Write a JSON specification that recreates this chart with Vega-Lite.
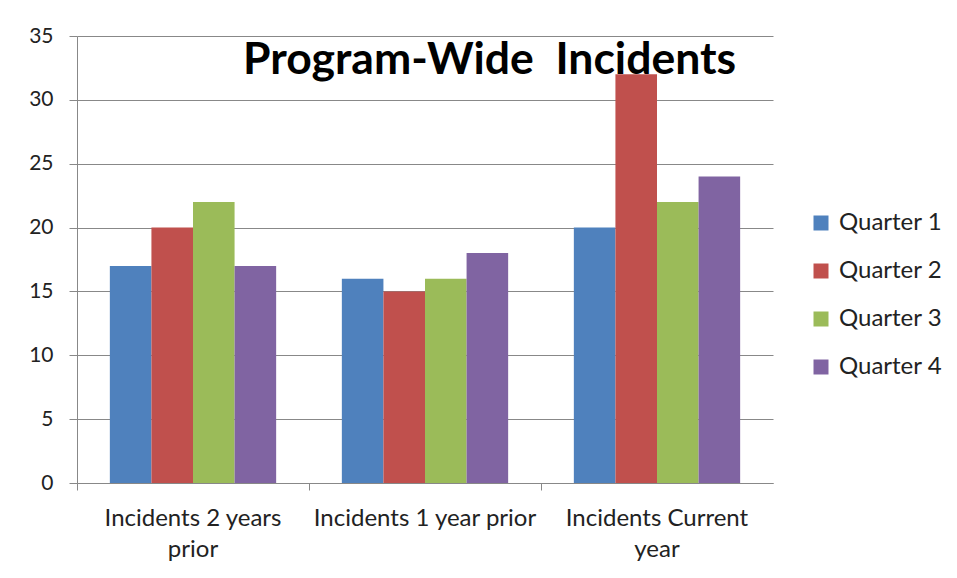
{
  "$schema": "https://vega.github.io/schema/vega-lite/v6.json",
  "width": 696,
  "height": 447,
  "autosize": "none",
  "padding": {"left": 77, "top": 36, "right": 184, "bottom": 95},
  "background": "white",
  "title": {
    "text": "Program-Wide\u00a0 Incidents",
    "anchor": "start",
    "frame": "group",
    "orient": "top",
    "baseline": "alphabetic",
    "offset": -50,
    "dy": 43,
    "dx": 166,
    "font": "Lato",
    "fontSize": 44.5,
    "fontWeight": "bold",
    "color": "black"
  },
  "data": {
    "values": [
      {"period": "Incidents 2 years prior", "quarter": "Quarter 1", "incidents": 17},
      {"period": "Incidents 2 years prior", "quarter": "Quarter 2", "incidents": 20},
      {"period": "Incidents 2 years prior", "quarter": "Quarter 3", "incidents": 22},
      {"period": "Incidents 2 years prior", "quarter": "Quarter 4", "incidents": 17},
      {"period": "Incidents 1 year prior", "quarter": "Quarter 1", "incidents": 16},
      {"period": "Incidents 1 year prior", "quarter": "Quarter 2", "incidents": 15},
      {"period": "Incidents 1 year prior", "quarter": "Quarter 3", "incidents": 16},
      {"period": "Incidents 1 year prior", "quarter": "Quarter 4", "incidents": 18},
      {"period": "Incidents Current year", "quarter": "Quarter 1", "incidents": 20},
      {"period": "Incidents Current year", "quarter": "Quarter 2", "incidents": 32},
      {"period": "Incidents Current year", "quarter": "Quarter 3", "incidents": 22},
      {"period": "Incidents Current year", "quarter": "Quarter 4", "incidents": 24}
    ]
  },
  "mark": {"type": "bar"},
  "encoding": {
    "x": {
      "field": "period",
      "type": "nominal",
      "sort": null,
      "title": null,
      "scale": {"paddingInner": 0, "paddingOuter": 0},
      "axis": {
        "labelAngle": 0,
        "bandPosition": 0,
        "domainColor": "#888888",
        "tickColor": "#888888",
        "tickSize": 7,
        "labelPadding": 16,
        "labelFont": "Lato",
        "labelFontSize": 24,
        "labelColor": "#222222",
        "labelLineHeight": 31,
        "labelBaseline": "top",
        "labelLimit": 400,
        "labelExpr": "datum.label == 'Incidents 2 years prior' ? ['Incidents 2 years', 'prior'] : datum.label == 'Incidents Current year' ? ['Incidents Current', 'year'] : datum.label",
        "grid": false
      }
    },
    "xOffset": {
      "field": "quarter",
      "type": "nominal",
      "scale": {"paddingInner": 0, "paddingOuter": 0.79}
    },
    "y": {
      "field": "incidents",
      "type": "quantitative",
      "title": null,
      "scale": {"domain": [0, 35], "nice": false},
      "axis": {
        "values": [0, 5, 10, 15, 20, 25, 30, 35],
        "domainColor": "#888888",
        "tickColor": "#888888",
        "tickSize": 8,
        "labelPadding": 16,
        "labelFont": "Lato",
        "labelFontSize": 21,
        "labelColor": "#222222",
        "gridColor": "#888888",
        "gridWidth": 1
      }
    },
    "color": {
      "field": "quarter",
      "type": "nominal",
      "title": null,
      "scale": {
        "domain": ["Quarter 1", "Quarter 2", "Quarter 3", "Quarter 4"],
        "range": ["#4F81BD", "#C0504D", "#9BBB59", "#8064A2"]
      },
      "legend": {
        "orient": "none",
        "legendX": 732,
        "legendY": 175,
        "symbolType": "square",
        "symbolSize": 225,
        "symbolStrokeWidth": 0,
        "labelFont": "Lato",
        "labelFontSize": 24,
        "labelColor": "#222222",
        "labelOffset": 6,
        "labelLimit": 200,
        "rowPadding": 24
      }
    }
  },
  "config": {
    "view": {"stroke": null}
  }
}
